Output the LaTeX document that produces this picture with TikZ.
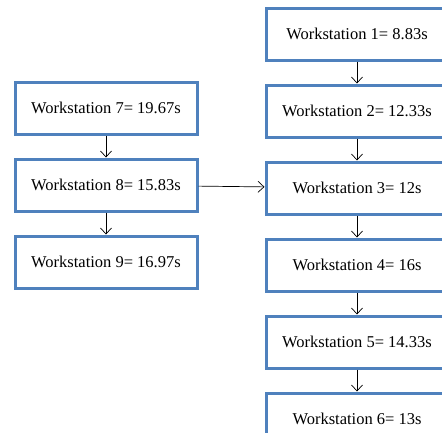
\documentclass[tikz,border=0pt]{standalone}
\usepackage{fontspec}
\setmainfont{Liberation Serif}
\usetikzlibrary{positioning}
\usetikzlibrary{arrows.meta}
\definecolor{wsblue}{HTML}{4F81BD}
\tikzset{
	% one box per workstation, and the thin arrows between them
	station/.style={draw=wsblue,line width=3pt,fill=white,minimum width=182pt,minimum height=52pt,inner sep=0pt},
	flow/.style={-{Straight Barb[length=6pt,width=11pt]},line width=0.7pt}
}

\begin{document}
\begin{tikzpicture}[x=1pt,y=1pt,font=\fontsize{16.5}{20}\selectfont]
\path[use as bounding box,clip](0,0)rectangle(442,-432);

% main line (right column)
\node(ws1)[station] at (357,-34) {Workstation 1= 8.83s};
\node(ws2)[station,below=22pt of ws1] {Workstation 2= 12.33s};
\node(ws3)[station,below=22pt of ws2] {Workstation 3= 12s};
\node(ws4)[station,below=22pt of ws3] {Workstation 4= 16s};
\node(ws5)[station,below=22pt of ws4] {Workstation 5= 14.33s};
\node(ws6)[station,below=22pt of ws5] {Workstation 6= 13s};

% feeder line (left column)
\node(ws7)[station] at (106,-108) {Workstation 7= 19.67s};
\node(ws8)[station,below=22pt of ws7] {Workstation 8= 15.83s};
\node(ws9)[station,below=22pt of ws8] {Workstation 9= 16.97s};

% arrows down each column
\draw[flow](ws1)--(ws2);
\draw[flow](ws2)--(ws3);
\draw[flow](ws3)--(ws4);
\draw[flow](ws4)--(ws5);
\draw[flow](ws5)--(ws6);
\draw[flow](ws7)--(ws8);
\draw[flow](ws8)--(ws9);
% feeder joins the main line
\draw[flow](ws8)--(ws3);

\end{tikzpicture}
\end{document}
